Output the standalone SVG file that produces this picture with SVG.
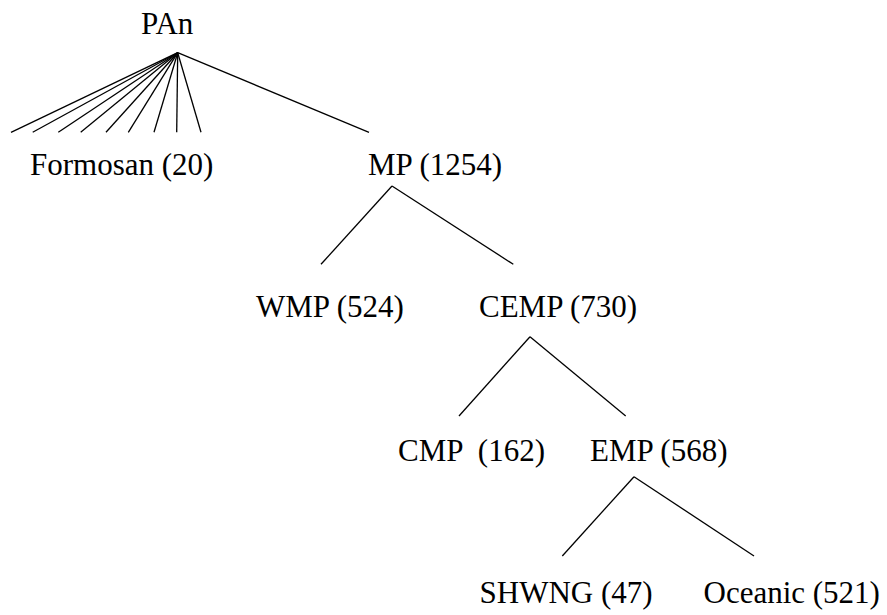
<svg xmlns="http://www.w3.org/2000/svg" width="887" height="615" viewBox="0 0 887 615">
<style>
text{font-family:"Liberation Serif","Times New Roman",serif;font-size:31px;fill:#000;white-space:pre}
.c line{stroke:#000;stroke-width:1.3;fill:none}
</style>
<rect width="887" height="615" fill="#fff"/>
<g class="c" id="connectors">
<line x1="177.7" y1="52.7" x2="11" y2="132.3"/>
<line x1="177.7" y1="52.7" x2="32.7" y2="132.3"/>
<line x1="177.7" y1="52.7" x2="58.3" y2="132.3"/>
<line x1="177.7" y1="52.7" x2="80.7" y2="132.3"/>
<line x1="177.7" y1="52.7" x2="106" y2="132.3"/>
<line x1="177.7" y1="52.7" x2="128.3" y2="132.3"/>
<line x1="177.7" y1="52.7" x2="154" y2="132.3"/>
<line x1="177.7" y1="52.7" x2="176.7" y2="132.3"/>
<line x1="177.7" y1="52.7" x2="201" y2="132.3"/>
<line x1="177.7" y1="52.7" x2="369" y2="132.3"/>
<line x1="392" y1="186" x2="321" y2="264.3"/>
<line x1="392" y1="186" x2="513.3" y2="264.3"/>
<line x1="530" y1="336.7" x2="459" y2="416"/>
<line x1="530" y1="336.7" x2="625.7" y2="416"/>
<line x1="634" y1="476.7" x2="562.3" y2="556"/>
<line x1="634" y1="476.7" x2="754" y2="556"/>
</g>
<g id="PAn"><text x="141" y="33.5">PAn</text></g>
<g id="Formosan"><text x="30" y="175">Formosan (20)</text></g>
<g id="MP"><text x="368" y="175">MP (1254)</text></g>
<g id="WMP"><text x="256" y="316.5">WMP (524)</text></g>
<g id="CEMP"><text x="479" y="316.5">CEMP (730)</text></g>
<g id="CMP"><text x="398" y="461">CMP  (162)</text></g>
<g id="EMP"><text x="590" y="461">EMP (568)</text></g>
<g id="SHWNG"><text x="479.5" y="603">SHWNG (47)</text></g>
<g id="Oceanic"><text x="703.5" y="603">Oceanic (521)</text></g>
</svg>
